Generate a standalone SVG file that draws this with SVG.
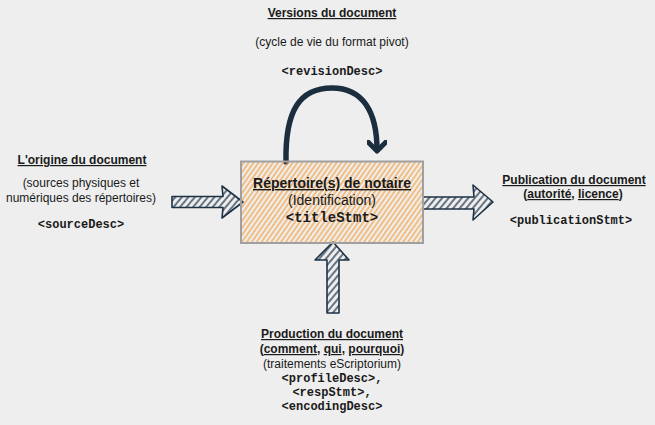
<svg xmlns="http://www.w3.org/2000/svg" width="655" height="425" viewBox="0 0 655 425">
<defs>
<pattern id="orangeHatch" patternUnits="userSpaceOnUse" width="4" height="4" patternTransform="rotate(35)">
<line x1="1" y1="0" x2="1" y2="4" stroke="#f4a040" stroke-width="1.2"/>
</pattern>
<pattern id="darkHatch" patternUnits="userSpaceOnUse" width="5" height="5" patternTransform="rotate(40)">
<line x1="1" y1="0" x2="1" y2="5" stroke="#1e3246" stroke-width="1.3"/>
</pattern>
<marker id="chev" viewBox="0 0 20 20" refX="10" refY="10" markerWidth="20" markerHeight="20" markerUnits="userSpaceOnUse" orient="auto">
<path d="M2,1 L11,10 L2,19" fill="none" stroke="#1b2e40" stroke-width="5" stroke-linecap="round" stroke-linejoin="round"/>
</marker>
</defs>
<style>
text{font-family:"Liberation Sans",Arial,sans-serif;font-size:12px;fill:#1a1a1a;text-anchor:middle}
.b{font-weight:bold}
.u{text-decoration:underline}
.m{font-family:"Liberation Mono","Courier New",monospace;font-weight:bold}
.arrow{fill:url(#darkHatch);stroke:#1e3246;stroke-width:1.6;stroke-linejoin:round}
</style>
<rect width="655" height="425" fill="#eeeeee"/>
<g id="connectors">
<path d="M286,162 C285,110 300,88 332,88 C363,88 377,112 377,150" fill="none" stroke="#1b2e40" stroke-width="5.5" stroke-linecap="round" marker-end="url(#chev)"/>
<polygon class="arrow" points="172,196.5 223,196.5 222,186 243,202 222,218 223,207.5 172,207.5"/>
<polygon class="arrow" points="423,197 474,197 473,185 493,202 473,220 474,209 423,209"/>
<polygon class="arrow" points="327,313 327,260 315,260 333,242 349,260 339,260 339,313"/>
</g>
<g id="center">
<rect x="241" y="161.5" width="182" height="81.5" fill="url(#orangeHatch)" stroke="#a0a0a0" stroke-width="2"/>
<text x="332" y="188" class="b u" style="font-size:14px">Répertoire(s) de notaire</text>
<text x="332" y="205" style="font-size:14px">(Identification)</text>
<text x="332" y="222" class="m" style="font-size:14px">&lt;titleStmt&gt;</text>
</g>
<g id="versions">
<text x="332" y="17" class="b u">Versions du document</text>
<text x="332" y="46">(cycle de vie du format pivot)</text>
<text x="332" y="75" class="m">&lt;revisionDesc&gt;</text>
</g>
<g id="origine">
<text x="82" y="164" class="b u">L'origine du document</text>
<text x="81" y="187">(sources physiques et</text>
<text x="81" y="202">numériques des répertoires)</text>
<text x="81" y="228" class="m">&lt;sourceDesc&gt;</text>
</g>
<g id="publication">
<text x="574" y="184" class="b u">Publication du document</text>
<text x="573" y="198" class="b">(<tspan class="u">autorité</tspan>, <tspan class="u">licence</tspan>)</text>
<text x="571" y="224" class="m">&lt;publicationStmt&gt;</text>
</g>
<g id="production">
<text x="332" y="338" class="b u">Production du document</text>
<text x="332" y="353" class="b">(<tspan class="u">comment</tspan>, <tspan class="u">qui</tspan>, <tspan class="u">pourquoi</tspan>)</text>
<text x="332" y="368">(traitements eScriptorium)</text>
<text x="332" y="382" class="m">&lt;profileDesc&gt;,</text>
<text x="332" y="396" class="m">&lt;respStmt&gt;,</text>
<text x="332" y="410" class="m">&lt;encodingDesc&gt;</text>
</g>
</svg>
